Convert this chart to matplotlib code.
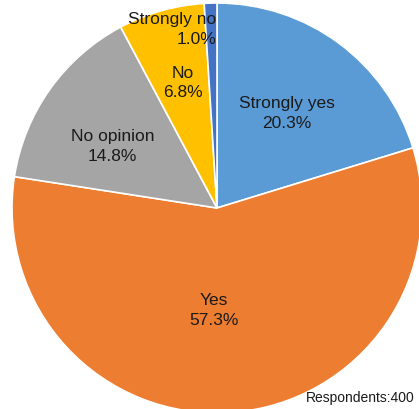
import matplotlib.pyplot as plt

labels = ["Strongly yes", "Yes", "No opinion", "No", "Strongly no"]
shares = [20.3, 57.3, 14.8, 6.8, 1.0]
colors = ["#5B9BD5", "#ED7D31", "#A5A5A5", "#FFC000", "#4472C4"]
respondents = 400

plt.rcParams["font.family"] = ["Liberation Sans", "DejaVu Sans"]

W, H = 419, 409
fig = plt.figure(figsize=(W / 100, H / 100), dpi=100)
cx, cy, r = 217, 208, 205
ax = fig.add_axes([(cx - r) / W, (H - cy - r) / H, 2 * r / W, 2 * r / H])

wedges, _ = ax.pie(shares, colors=colors, startangle=90, counterclock=False,
                   radius=1, wedgeprops=dict(edgecolor="white", linewidth=1.2))
ax.set_xlim(-1, 1)
ax.set_ylim(-1, 1)
ax.axis("off")

# label placement (axes data units, pie radius = 1)
label_pos = [(0.34, 0.46, "center"), (-0.015, -0.50, "center"),
             (-0.51, 0.30, "center"), (-0.166, 0.61, "center"),
             (-0.005, 0.87, "right")]
for lab, v, (x, y, ha) in zip(labels, shares, label_pos):
    ax.text(x, y, f"{lab}\n{v:.1f}%", ha=ha, va="center", multialignment=ha,
            fontsize=12.5, color="#1a1a1a", linespacing=1.4)

fig.text(415 / W, 4 / H, f"Respondents:{respondents}", ha="right", va="bottom",
         fontsize=10, color="#1a1a1a")

fig.savefig("out.png", dpi=100)
